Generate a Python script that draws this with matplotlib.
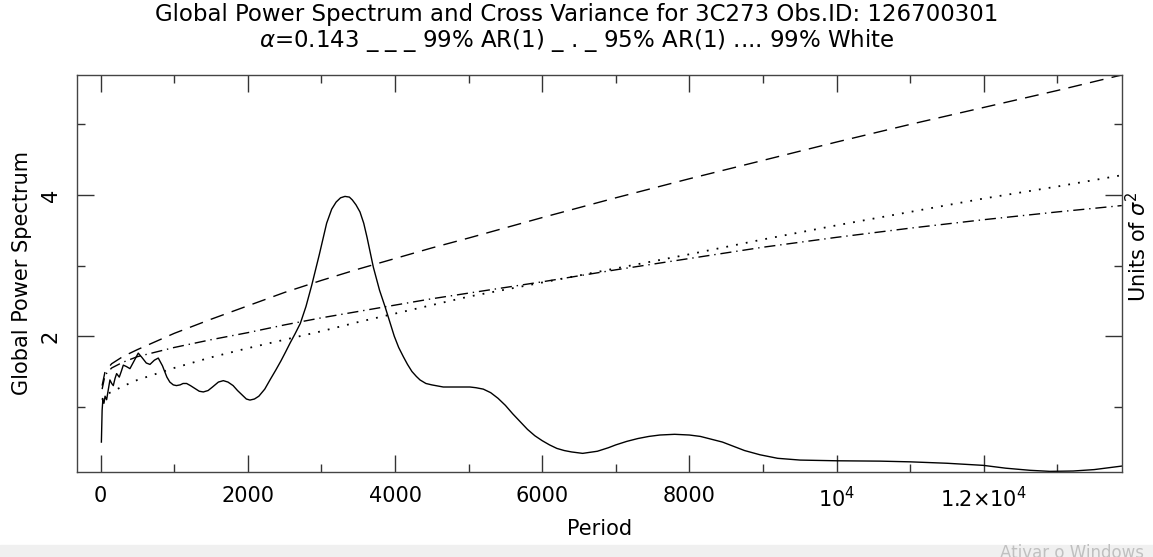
import matplotlib
matplotlib.use("Agg")
import matplotlib.pyplot as plt
from matplotlib.patches import Rectangle

# Data

# global wavelet power spectrum (solid line)
period = [10, 20, 30, 45, 60, 81, 100, 126, 150, 172, 195, 217, 253, 280, 308,
          350, 398, 450, 511, 560, 620, 670, 730, 783, 840, 900, 940, 987,
          1030, 1080, 1120, 1168, 1220, 1280, 1340, 1395, 1460, 1520, 1600,
          1667, 1730, 1800, 1860, 1920, 1980, 2029, 2090, 2150, 2230, 2301,
          2380, 2450, 2510, 2573, 2640, 2713, 2790, 2868, 2970, 3071, 3140,
          3200, 3260, 3320, 3380, 3420, 3470, 3524, 3575, 3620, 3660, 3705,
          3790, 3864, 3930, 3990, 4050, 4113, 4170, 4230, 4290, 4340, 4420,
          4500, 4656, 4850, 5019, 5100, 5200, 5300, 5400, 5500, 5600, 5700,
          5800, 5900, 6000, 6100, 6200, 6300, 6400, 6550, 6750, 6900, 7000,
          7150, 7300, 7450, 7600, 7800, 8000, 8150, 8300, 8450, 8600, 8750,
          8960, 9200, 9505, 10000, 10592, 11000, 11500, 11995, 12300, 12630,
          12900, 13215, 13500, 13876]
power = [0.50, 0.95, 1.10, 1.05, 1.15, 1.10, 1.22, 1.38, 1.33, 1.30, 1.40, 1.47,
         1.42, 1.50, 1.59, 1.57, 1.54, 1.64, 1.76, 1.70, 1.62, 1.60, 1.66, 1.69,
         1.58, 1.42, 1.35, 1.31, 1.30, 1.31, 1.33, 1.33, 1.30, 1.26, 1.22, 1.21,
         1.23, 1.28, 1.35, 1.37, 1.35, 1.30, 1.23, 1.17, 1.11, 1.095, 1.11,
         1.15, 1.25, 1.38, 1.52, 1.65, 1.77, 1.90, 2.03, 2.18, 2.42, 2.72, 3.15,
         3.60, 3.80, 3.90, 3.96, 3.98, 3.97, 3.93, 3.86, 3.76, 3.60, 3.40, 3.20,
         2.98, 2.65, 2.42, 2.20, 2.00, 1.84, 1.71, 1.60, 1.50, 1.43, 1.38, 1.33,
         1.31, 1.28, 1.28, 1.28, 1.27, 1.25, 1.20, 1.12, 1.02, 0.90, 0.79, 0.68,
         0.59, 0.52, 0.46, 0.41, 0.38, 0.36, 0.34, 0.37, 0.42, 0.46, 0.51, 0.55,
         0.58, 0.60, 0.61, 0.60, 0.58, 0.54, 0.50, 0.44, 0.38, 0.32, 0.27, 0.245,
         0.235, 0.23, 0.22, 0.20, 0.17, 0.13, 0.10, 0.085, 0.09, 0.11, 0.16]

# significance levels
sig_period = [20, 60, 150, 300, 500, 1000, 1500, 2000, 2500, 3000, 3500, 4000,
              4500, 5000, 6000, 7000, 8000, 9000, 10000, 11000, 12000, 13000,
              13876]
ar1_99 = [1.30, 1.50, 1.61, 1.71, 1.81, 2.04, 2.24, 2.43, 2.62, 2.79, 2.95, 3.10,
          3.25, 3.39, 3.68, 3.96, 4.23, 4.49, 4.75, 5.00, 5.24, 5.48, 5.70]
ar1_95 = [1.25, 1.45, 1.55, 1.63, 1.71, 1.84, 1.95, 2.05, 2.16, 2.26, 2.35, 2.44,
          2.53, 2.61, 2.77, 2.94, 3.10, 3.26, 3.40, 3.53, 3.65, 3.76, 3.85]
white_99 = [1.10, 1.17, 1.21, 1.29, 1.38, 1.55, 1.70, 1.83, 1.95, 2.07, 2.20, 2.32,
            2.44, 2.56, 2.76, 2.96, 3.16, 3.37, 3.57, 3.76, 3.95, 4.12, 4.28]

xtick_vals = [0, 2000, 4000, 6000, 8000, 10000, 12000]
xtick_labels = ["0", "2000", "4000", "6000", "8000", r"10$^4$", r"1.2$\times$10$^4$"]

title1 = "Global Power Spectrum and Cross Variance for 3C273 Obs.ID: 126700301"
title2 = r"$\alpha$=0.143 _ _ _ 99% AR(1) _ . _ 95% AR(1) .... 99% White"

# Plot

plt.rcParams["font.family"] = ["DejaVu Sans"]
fig = plt.figure(figsize=(11.53, 5.57), dpi=100)
ax = fig.add_axes([0.0670, 0.1531, 0.9059, 0.7123])

ax.plot(period, power, color="black", lw=1.0)
ax.plot(sig_period, ar1_99, color="black", lw=1.0, dashes=(10, 6))
ax.plot(sig_period, ar1_95, color="black", lw=1.0, dashes=(8, 3.5, 1, 3.5))
ax.plot(sig_period, white_99, color="black", lw=1.3, dashes=(1, 4.5))

ax.set_xlim(-318, 13876)
ax.set_ylim(0.08, 5.70)

ax.set_xticks(xtick_vals)
ax.set_xticklabels(xtick_labels)
ax.set_xticks(range(1000, 14000, 2000), minor=True)
ax.set_yticks([2, 4])
ax.set_yticklabels(["2", "4"], rotation=90, va="center")
ax.set_yticks([1, 3, 5], minor=True)

ax.tick_params(which="both", direction="in", top=True, right=True,
               color="#333333", width=1.0, labelsize=15)
ax.tick_params(which="major", length=12)
ax.tick_params(which="minor", length=6)
ax.tick_params(axis="x", pad=10)
ax.tick_params(axis="y", pad=12)

for s in ax.spines.values():
    s.set_color("#444444")
    s.set_linewidth(1.0)

ax.set_xlabel("Period", fontsize=15, labelpad=6)
fig.text(22 / 1153, 1 - 273 / 557, "Global Power Spectrum", rotation=90,
         ha="center", va="center", fontsize=15)
fig.text(1138 / 1153, 1 - 247 / 557, r"Units of $\sigma^2$", rotation=90,
         ha="center", va="center", fontsize=15)

fig.text(0.5, 1 - 15 / 557, title1, ha="center", va="center", fontsize=16.5)
fig.text(0.5, 1 - 41 / 557, title2, ha="center", va="center", fontsize=16.5)

# screenshot leftovers at the bottom edge (watermark is cut by the frame)
fig.patches.append(Rectangle((0, 0), 1, 12 / 557, transform=fig.transFigure,
                             color="#f0f0f0", zorder=0))
fig.text(1000 / 1153, -5 / 557, "Ativar o Windows", color="#c0c0c0",
         fontsize=12, ha="left", va="bottom")

fig.savefig("out.png", dpi=100)
